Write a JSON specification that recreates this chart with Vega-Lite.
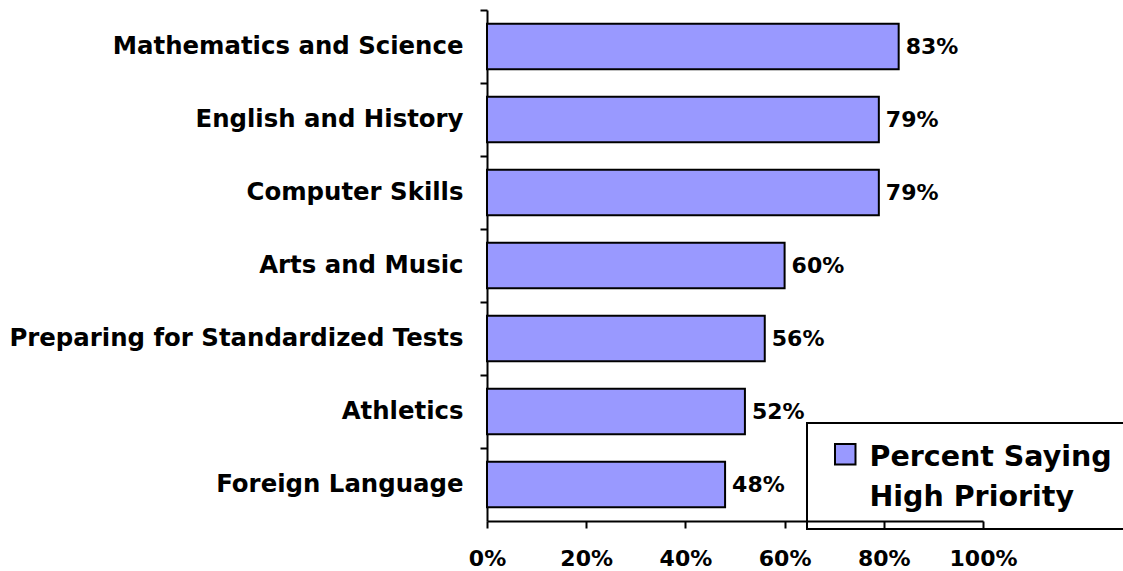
{
  "$schema": "https://vega.github.io/schema/vega-lite/v6.json",
  "autosize": "none",
  "width": 496,
  "height": 511,
  "padding": {"left": 487, "top": 10, "right": 140, "bottom": 50},
  "background": "white",
  "config": {
    "view": {"stroke": null},
    "font": "DejaVu Sans"
  },
  "data": {
    "values": [
      {"subject": "Mathematics and Science", "share": 0.83, "series": "Percent Saying High Priority"},
      {"subject": "English and History", "share": 0.79, "series": "Percent Saying High Priority"},
      {"subject": "Computer Skills", "share": 0.79, "series": "Percent Saying High Priority"},
      {"subject": "Arts and Music", "share": 0.60, "series": "Percent Saying High Priority"},
      {"subject": "Preparing for Standardized Tests", "share": 0.56, "series": "Percent Saying High Priority"},
      {"subject": "Athletics", "share": 0.52, "series": "Percent Saying High Priority"},
      {"subject": "Foreign Language", "share": 0.48, "series": "Percent Saying High Priority"}
    ]
  },
  "encoding": {
    "y": {
      "field": "subject",
      "type": "nominal",
      "sort": null,
      "scale": {"paddingInner": 0, "paddingOuter": 0},
      "axis": {
        "title": null,
        "bandPosition": 0,
        "domainColor": "black",
        "domainWidth": 2,
        "tickColor": "black",
        "tickWidth": 2,
        "tickSize": 7,
        "labelPadding": 17,
        "labelFont": "DejaVu Sans",
        "labelFontSize": 24.4,
        "labelFontWeight": "bold",
        "labelColor": "black",
        "labelLimit": 600
      }
    },
    "x": {
      "field": "share",
      "type": "quantitative",
      "scale": {"domain": [0, 1], "nice": false},
      "axis": {
        "title": null,
        "values": [0, 0.2, 0.4, 0.6, 0.8, 1],
        "format": ".0%",
        "grid": false,
        "zindex": 1,
        "domainColor": "black",
        "domainWidth": 2,
        "tickColor": "black",
        "tickWidth": 2,
        "tickSize": 7,
        "labelPadding": 20,
        "labelFont": "DejaVu Sans",
        "labelFontSize": 22,
        "labelFontWeight": "bold",
        "labelColor": "black",
        "labelFlush": false
      }
    }
  },
  "layer": [
    {
      "mark": {"type": "bar", "height": {"band": 0.62}, "stroke": "black", "strokeWidth": 2},
      "encoding": {
        "color": {
          "field": "series",
          "type": "nominal",
          "scale": {"range": ["#9999FF"]},
          "legend": {
            "title": null,
            "orient": "none",
            "legendX": 320,
            "legendY": 413,
            "padding": 17,
            "strokeColor": "black",
            "fillColor": "white",
            "symbolType": "square",
            "symbolSize": 420,
            "symbolOffset": 7,
            "symbolStrokeColor": "black",
            "symbolStrokeWidth": 2,
            "labelOffset": 10,
            "labelFont": "DejaVu Sans",
            "labelFontSize": 28.5,
            "labelFontWeight": "bold",
            "labelColor": "black",
            "labelLimit": 600,
            "labelBaseline": "top",
            "labelExpr": "['Percent Saying', 'High Priority']",
            "encode": {
              "labels": {"update": {"lineHeight": {"value": 40}, "dy": {"value": -11}}},
              "legend": {"update": {"strokeWidth": {"value": 2}}}
            }
          }
        }
      }
    },
    {
      "mark": {"type": "text", "align": "left", "baseline": "middle", "dx": 7, "font": "DejaVu Sans", "fontSize": 22, "fontWeight": "bold", "color": "black"},
      "encoding": {
        "text": {"field": "share", "type": "quantitative", "format": ".0%"}
      }
    }
  ]
}
